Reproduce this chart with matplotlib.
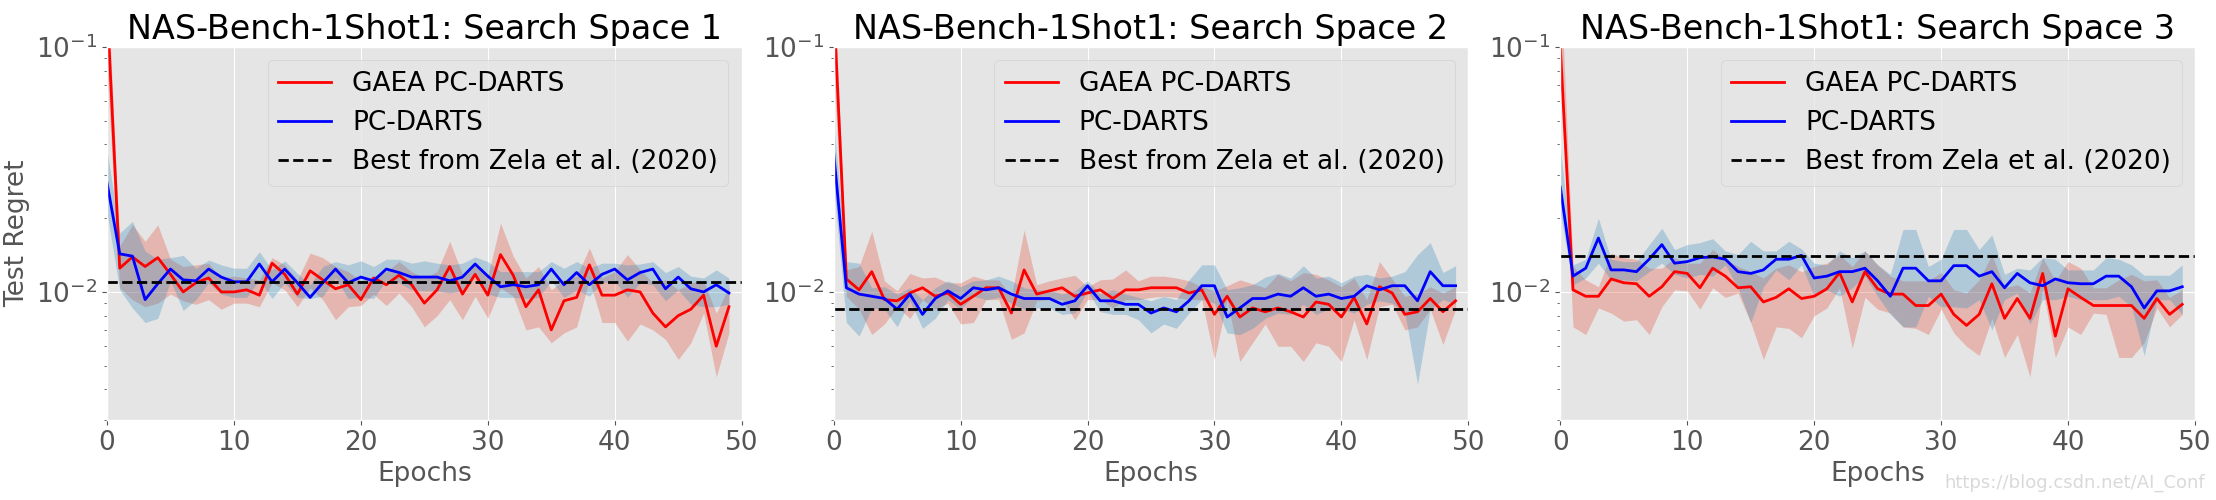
import numpy as np
import matplotlib
matplotlib.use('Agg')
import matplotlib.pyplot as plt

plt.style.use('ggplot')

epochs = np.arange(50)

titles = ['NAS-Bench-1Shot1: Search Space 1',
          'NAS-Bench-1Shot1: Search Space 2',
          'NAS-Bench-1Shot1: Search Space 3']

# ---- Search space 1
ss1_gaea = [0.15, 0.0125, 0.0139, 0.0127, 0.0138, 0.0118, 0.0100, 0.0109, 0.0114, 0.0100,
            0.0100, 0.0102, 0.0097, 0.0131, 0.0118, 0.0098, 0.0122, 0.0112, 0.0103, 0.0107,
            0.0093, 0.0114, 0.0107, 0.0117, 0.0107, 0.0090, 0.0102, 0.0127, 0.0098, 0.0118,
            0.0097, 0.0142, 0.0117, 0.0087, 0.0102, 0.0070, 0.0092, 0.0095, 0.0129, 0.0097,
            0.0097, 0.0102, 0.0100, 0.0082, 0.0072, 0.0080, 0.0085, 0.0097, 0.0060, 0.0087]
ss1_gaea_hi = [0.2, 0.0154, 0.0188, 0.0161, 0.0188, 0.0136, 0.0127, 0.0129, 0.0131, 0.0114,
               0.0116, 0.0114, 0.0112, 0.0138, 0.0129, 0.0112, 0.0144, 0.0138, 0.0127, 0.0121,
               0.0111, 0.0116, 0.0121, 0.0133, 0.0121, 0.0114, 0.0121, 0.0161, 0.0118, 0.0133,
               0.0116, 0.0191, 0.0140, 0.0114, 0.0127, 0.0102, 0.0112, 0.0116, 0.0151, 0.0114,
               0.0121, 0.0142, 0.0123, 0.0109, 0.0112, 0.0102, 0.0109, 0.0111, 0.0082, 0.0105]
ss1_gaea_lo = [0.08, 0.0104, 0.0093, 0.0087, 0.0090, 0.0098, 0.0092, 0.0089, 0.0093, 0.0085,
               0.0090, 0.0090, 0.0087, 0.0109, 0.0102, 0.0087, 0.0104, 0.0093, 0.0077, 0.0087,
               0.0088, 0.0098, 0.0088, 0.0099, 0.0087, 0.0072, 0.0080, 0.0093, 0.0077, 0.0096,
               0.0078, 0.0104, 0.0096, 0.0070, 0.0072, 0.0062, 0.0068, 0.0072, 0.0112, 0.0075,
               0.0075, 0.0063, 0.0074, 0.0070, 0.0064, 0.0053, 0.0062, 0.0082, 0.0045, 0.0068]
ss1_pc = [0.0279, 0.0143, 0.0140, 0.0093, 0.0108, 0.0124, 0.0112, 0.0111, 0.0124, 0.0115,
          0.0110, 0.0110, 0.0130, 0.0110, 0.0124, 0.0109, 0.0095, 0.0109, 0.0124, 0.0109,
          0.0115, 0.0111, 0.0124, 0.0120, 0.0115, 0.0115, 0.0115, 0.0111, 0.0115, 0.0130,
          0.0116, 0.0105, 0.0107, 0.0105, 0.0107, 0.0124, 0.0107, 0.0120, 0.0107, 0.0118,
          0.0124, 0.0112, 0.0120, 0.0124, 0.0103, 0.0115, 0.0103, 0.0100, 0.0107, 0.0099]
ss1_pc_hi = [0.038, 0.0174, 0.0194, 0.0147, 0.0136, 0.0138, 0.0141, 0.0125, 0.0135, 0.0129,
             0.0125, 0.0125, 0.0146, 0.0123, 0.0134, 0.0119, 0.0107, 0.0127, 0.0133, 0.0129,
             0.0134, 0.0127, 0.0136, 0.0136, 0.0131, 0.0134, 0.0131, 0.0129, 0.0131, 0.0139,
             0.0133, 0.0121, 0.0121, 0.0121, 0.0121, 0.0133, 0.0125, 0.0133, 0.0125, 0.0131,
             0.0131, 0.0129, 0.0130, 0.0133, 0.0120, 0.0127, 0.0116, 0.0114, 0.0123, 0.0114]
ss1_pc_lo = [0.021, 0.0102, 0.0086, 0.0075, 0.0078, 0.0111, 0.0084, 0.0093, 0.0109, 0.0098,
             0.0095, 0.0095, 0.0112, 0.0094, 0.0109, 0.0095, 0.0094, 0.0096, 0.0114, 0.0094,
             0.0095, 0.0094, 0.0112, 0.0109, 0.0102, 0.0101, 0.0101, 0.0099, 0.0101, 0.0116,
             0.0098, 0.0095, 0.0095, 0.0094, 0.0095, 0.0111, 0.0095, 0.0102, 0.0096, 0.0109,
             0.0111, 0.0095, 0.0109, 0.0107, 0.0092, 0.0102, 0.0089, 0.0087, 0.0087, 0.0089]
ss1_best = 0.0110

# ---- Search space 2
ss2_gaea = [0.15, 0.0113, 0.0102, 0.0121, 0.0093, 0.0092, 0.0099, 0.0104, 0.0096, 0.0099,
            0.0089, 0.0096, 0.0104, 0.0104, 0.0082, 0.0123, 0.0098, 0.0101, 0.0104, 0.0096,
            0.0099, 0.0102, 0.0094, 0.0102, 0.0102, 0.0104, 0.0104, 0.0104, 0.0099, 0.0102,
            0.0081, 0.0096, 0.0079, 0.0086, 0.0083, 0.0086, 0.0083, 0.0079, 0.0091, 0.0089,
            0.0079, 0.0095, 0.0074, 0.0105, 0.0099, 0.0081, 0.0083, 0.0094, 0.0083, 0.0092]
ss2_gaea_hi = [0.2, 0.0123, 0.0127, 0.0177, 0.0111, 0.0101, 0.0119, 0.0114, 0.0115, 0.0109,
               0.0109, 0.0116, 0.0112, 0.0112, 0.0096, 0.0179, 0.0107, 0.0111, 0.0114, 0.0117,
               0.0105, 0.0112, 0.0113, 0.0123, 0.0111, 0.0116, 0.0116, 0.0114, 0.0111, 0.0105,
               0.0101, 0.0106, 0.0112, 0.0108, 0.0104, 0.0118, 0.0111, 0.0120, 0.0118, 0.0112,
               0.0105, 0.0114, 0.0093, 0.0133, 0.0113, 0.0096, 0.0098, 0.0105, 0.0099, 0.0105]
ss2_gaea_lo = [0.08, 0.0096, 0.0085, 0.0067, 0.0074, 0.0087, 0.0078, 0.0093, 0.0085, 0.0090,
               0.0074, 0.0075, 0.0093, 0.0093, 0.0064, 0.0068, 0.0092, 0.0093, 0.0093, 0.0077,
               0.0093, 0.0093, 0.0086, 0.0093, 0.0093, 0.0095, 0.0096, 0.0095, 0.0093, 0.0093,
               0.0053, 0.0093, 0.0052, 0.0062, 0.0074, 0.0060, 0.0060, 0.0052, 0.0062, 0.0060,
               0.0052, 0.0077, 0.0053, 0.0087, 0.0089, 0.0070, 0.0072, 0.0085, 0.0061, 0.0085]
ss2_pc = [0.037, 0.0104, 0.0098, 0.0096, 0.0094, 0.0085, 0.0098, 0.0081, 0.0094, 0.0101,
          0.0094, 0.0104, 0.0102, 0.0104, 0.0098, 0.0094, 0.0094, 0.0094, 0.0089, 0.0092,
          0.0106, 0.0092, 0.0092, 0.0089, 0.0089, 0.0082, 0.0086, 0.0083, 0.0092, 0.0106,
          0.0106, 0.0079, 0.0086, 0.0094, 0.0094, 0.0098, 0.0096, 0.0104, 0.0096, 0.0098,
          0.0094, 0.0096, 0.0106, 0.0102, 0.0106, 0.0106, 0.0092, 0.0121, 0.0106, 0.0106]
ss2_pc_hi = [0.049, 0.0133, 0.0131, 0.0104, 0.0105, 0.0098, 0.0104, 0.0093, 0.0104, 0.0111,
             0.0105, 0.0111, 0.0112, 0.0116, 0.0111, 0.0104, 0.0102, 0.0102, 0.0098, 0.0101,
             0.0111, 0.0098, 0.0102, 0.0098, 0.0095, 0.0092, 0.0096, 0.0093, 0.0112, 0.0129,
             0.0129, 0.0102, 0.0104, 0.0107, 0.0115, 0.0119, 0.0114, 0.0128, 0.0114, 0.0116,
             0.0109, 0.0116, 0.0118, 0.0114, 0.0116, 0.0121, 0.0142, 0.0159, 0.0120, 0.0128]
ss2_pc_lo = [0.027, 0.0075, 0.0066, 0.0086, 0.0085, 0.0072, 0.0092, 0.0071, 0.0078, 0.0093,
             0.0085, 0.0096, 0.0093, 0.0095, 0.0090, 0.0085, 0.0086, 0.0086, 0.0081, 0.0082,
             0.0101, 0.0083, 0.0081, 0.0081, 0.0077, 0.0068, 0.0074, 0.0071, 0.0082, 0.0093,
             0.0090, 0.0068, 0.0067, 0.0071, 0.0078, 0.0082, 0.0081, 0.0089, 0.0081, 0.0085,
             0.0085, 0.0082, 0.0089, 0.0092, 0.0090, 0.0082, 0.0042, 0.0085, 0.0093, 0.0089]
ss2_best = 0.0085

# ---- Search space 3
ss3_gaea = [0.10, 0.0102, 0.0096, 0.0096, 0.0113, 0.0109, 0.0108, 0.0096, 0.0105, 0.0121,
            0.0119, 0.0104, 0.0125, 0.0116, 0.0104, 0.0105, 0.0091, 0.0095, 0.0103, 0.0094,
            0.0096, 0.0103, 0.0120, 0.0091, 0.0121, 0.0103, 0.0098, 0.0098, 0.0088, 0.0088,
            0.0098, 0.0081, 0.0073, 0.0081, 0.0108, 0.0078, 0.0094, 0.0078, 0.0119, 0.0066,
            0.0103, 0.0095, 0.0088, 0.0088, 0.0088, 0.0088, 0.0078, 0.0094, 0.0081, 0.0089]
ss3_gaea_hi = [0.2, 0.0127, 0.0112, 0.0105, 0.0144, 0.0138, 0.0136, 0.0125, 0.0125, 0.0138,
               0.0131, 0.0131, 0.0149, 0.0136, 0.0127, 0.0121, 0.0114, 0.0125, 0.0129, 0.0121,
               0.0127, 0.0131, 0.0142, 0.0127, 0.0147, 0.0129, 0.0116, 0.0111, 0.0111, 0.0111,
               0.0120, 0.0102, 0.0099, 0.0112, 0.0142, 0.0104, 0.0107, 0.0099, 0.0138, 0.0111,
               0.0133, 0.0125, 0.0104, 0.0104, 0.0112, 0.0118, 0.0111, 0.0112, 0.0095, 0.0102]
ss3_gaea_lo = [0.08, 0.0072, 0.0067, 0.0086, 0.0082, 0.0076, 0.0077, 0.0067, 0.0087, 0.0102,
               0.0101, 0.0085, 0.0104, 0.0095, 0.0099, 0.0075, 0.0053, 0.0072, 0.0071, 0.0065,
               0.0080, 0.0086, 0.0104, 0.0059, 0.0095, 0.0085, 0.0082, 0.0072, 0.0071, 0.0067,
               0.0085, 0.0068, 0.0060, 0.0055, 0.0078, 0.0054, 0.0067, 0.0045, 0.0104, 0.0054,
               0.0072, 0.0067, 0.0082, 0.0081, 0.0054, 0.0054, 0.0062, 0.0086, 0.0072, 0.0081]
ss3_pc = [0.0268, 0.0116, 0.0125, 0.0166, 0.0123, 0.0123, 0.0121, 0.0136, 0.0156, 0.0131,
          0.0133, 0.0138, 0.0139, 0.0136, 0.0121, 0.0119, 0.0123, 0.0136, 0.0136, 0.0141,
          0.0114, 0.0116, 0.0121, 0.0121, 0.0125, 0.0111, 0.0096, 0.0125, 0.0125, 0.0111,
          0.0111, 0.0128, 0.0128, 0.0116, 0.0121, 0.0104, 0.0119, 0.0109, 0.0106, 0.0113,
          0.0109, 0.0108, 0.0108, 0.0116, 0.0116, 0.0105, 0.0086, 0.0101, 0.0101, 0.0105]
ss3_pc_hi = [0.039, 0.0129, 0.0136, 0.0200, 0.0136, 0.0133, 0.0133, 0.0156, 0.0182, 0.0149,
             0.0156, 0.0159, 0.0165, 0.0147, 0.0142, 0.0161, 0.0147, 0.0147, 0.0161, 0.0150,
             0.0131, 0.0129, 0.0147, 0.0138, 0.0147, 0.0129, 0.0118, 0.0180, 0.0180, 0.0127,
             0.0136, 0.0180, 0.0180, 0.0149, 0.0171, 0.0118, 0.0125, 0.0123, 0.0138, 0.0136,
             0.0123, 0.0123, 0.0123, 0.0138, 0.0136, 0.0129, 0.0117, 0.0117, 0.0117, 0.0129]
ss3_pc_lo = [0.021, 0.0107, 0.0114, 0.0131, 0.0112, 0.0112, 0.0111, 0.0121, 0.0131, 0.0118,
             0.0114, 0.0118, 0.0116, 0.0129, 0.0104, 0.0075, 0.0105, 0.0123, 0.0112, 0.0129,
             0.0096, 0.0102, 0.0096, 0.0104, 0.0116, 0.0096, 0.0081, 0.0072, 0.0072, 0.0096,
             0.0087, 0.0087, 0.0086, 0.0093, 0.0070, 0.0093, 0.0099, 0.0074, 0.0093, 0.0093,
             0.0096, 0.0093, 0.0093, 0.0093, 0.0096, 0.0087, 0.0055, 0.0093, 0.0093, 0.0081]
ss3_best = 0.0140

panels = [
    (ss1_gaea, ss1_gaea_lo, ss1_gaea_hi, ss1_pc, ss1_pc_lo, ss1_pc_hi, ss1_best),
    (ss2_gaea, ss2_gaea_lo, ss2_gaea_hi, ss2_pc, ss2_pc_lo, ss2_pc_hi, ss2_best),
    (ss3_gaea, ss3_gaea_lo, ss3_gaea_hi, ss3_pc, ss3_pc_lo, ss3_pc_hi, ss3_best),
]

fig, axes = plt.subplots(1, 3, figsize=(22.16, 5), dpi=100)
fig.subplots_adjust(left=0.0483, right=0.9905, bottom=0.16, top=0.906, wspace=0.145)

for i, ax in enumerate(axes):
    gaea, gaea_lo, gaea_hi, pc, pc_lo, pc_hi, best = panels[i]

    # shaded spread
    ax.fill_between(epochs, gaea_lo, gaea_hi, color='#E24A33', alpha=0.3, lw=0)
    ax.fill_between(epochs, pc_lo, pc_hi, color='#348ABD', alpha=0.3, lw=0)

    ax.plot(epochs, gaea, color='r', lw=2, label='GAEA PC-DARTS')
    ax.plot(epochs, pc, color='b', lw=2, label='PC-DARTS')
    ax.axhline(best, color='k', ls='--', lw=2, label='Best from Zela et al. (2020)')

    ax.set_yscale('log')
    ax.set_ylim(0.003, 0.1)
    ax.set_xlim(0, 50)
    ax.set_xticks([0, 10, 20, 30, 40, 50])

    ax.set_title(titles[i], fontsize=24)
    ax.set_xlabel('Epochs', fontsize=19)
    if i == 0:
        ax.set_ylabel('Test Regret', fontsize=19)
    ax.tick_params(axis='both', which='major', labelsize=19)
    ax.legend(loc='upper right', fontsize=19)

fig.text(0.995, 0.015, 'https://blog.csdn.net/AI_Conf', ha='right', va='bottom',
         fontsize=13, color='#d9d9d9')

plt.savefig('out.png', dpi=100)
